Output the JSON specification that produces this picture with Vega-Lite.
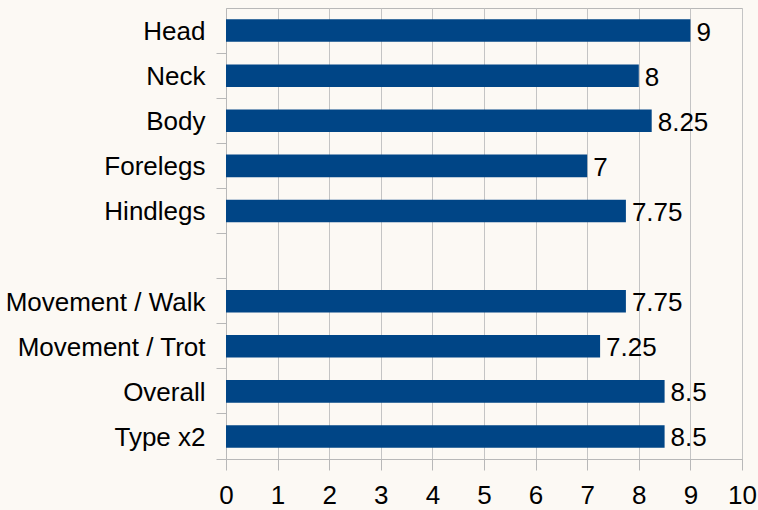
{
  "$schema": "https://vega.github.io/schema/vega-lite/v6.json",
  "autosize": {"type": "none"},
  "width": 516,
  "height": 451,
  "padding": {"left": 226, "top": 8, "right": 16, "bottom": 51},
  "background": "#fcf9f4",
  "config": {
    "view": {"stroke": "#b8b8b8", "strokeWidth": 1},
    "font": "Liberation Sans",
    "axis": {
      "labelFont": "Liberation Sans",
      "labelFontSize": 26,
      "labelColor": "#000000",
      "domainColor": "#b8b8b8",
      "tickColor": "#b8b8b8",
      "gridColor": "#c4c4c4",
      "labelLimit": 0
    }
  },
  "data": {
    "values": [
      {"part": "Head", "score": 9},
      {"part": "Neck", "score": 8},
      {"part": "Body", "score": 8.25},
      {"part": "Forelegs", "score": 7},
      {"part": "Hindlegs", "score": 7.75},
      {"part": " ", "score": null},
      {"part": "Movement / Walk", "score": 7.75},
      {"part": "Movement / Trot", "score": 7.25},
      {"part": "Overall", "score": 8.5},
      {"part": "Type x2", "score": 8.5}
    ]
  },
  "encoding": {
    "y": {
      "field": "part",
      "type": "nominal",
      "sort": null,
      "scale": {
        "domain": ["Head", "Neck", "Body", "Forelegs", "Hindlegs", " ", "Movement / Walk", "Movement / Trot", "Overall", "Type x2"],
        "paddingInner": 0.5,
        "paddingOuter": 0.25
      },
      "axis": {
        "title": null,
        "bandPosition": 1.5,
        "tickSize": 10,
        "labelPadding": 11,
        "labelOffset": 1.5,
        "grid": false
      }
    },
    "x": {
      "field": "score",
      "type": "quantitative",
      "scale": {"domain": [0, 10], "nice": false, "zero": true},
      "axis": {
        "title": null,
        "values": [0, 1, 2, 3, 4, 5, 6, 7, 8, 9, 10],
        "tickSize": 11,
        "labelPadding": 12,
        "labelFlush": false,
        "grid": true
      }
    }
  },
  "layer": [
    {"mark": {"type": "bar", "color": "#004586"}},
    {
      "mark": {"type": "text", "align": "left", "baseline": "middle", "dx": 6, "dy": 2, "fontSize": 26, "font": "Liberation Sans", "color": "#000000"},
      "encoding": {"text": {"field": "score", "type": "quantitative"}}
    }
  ]
}
